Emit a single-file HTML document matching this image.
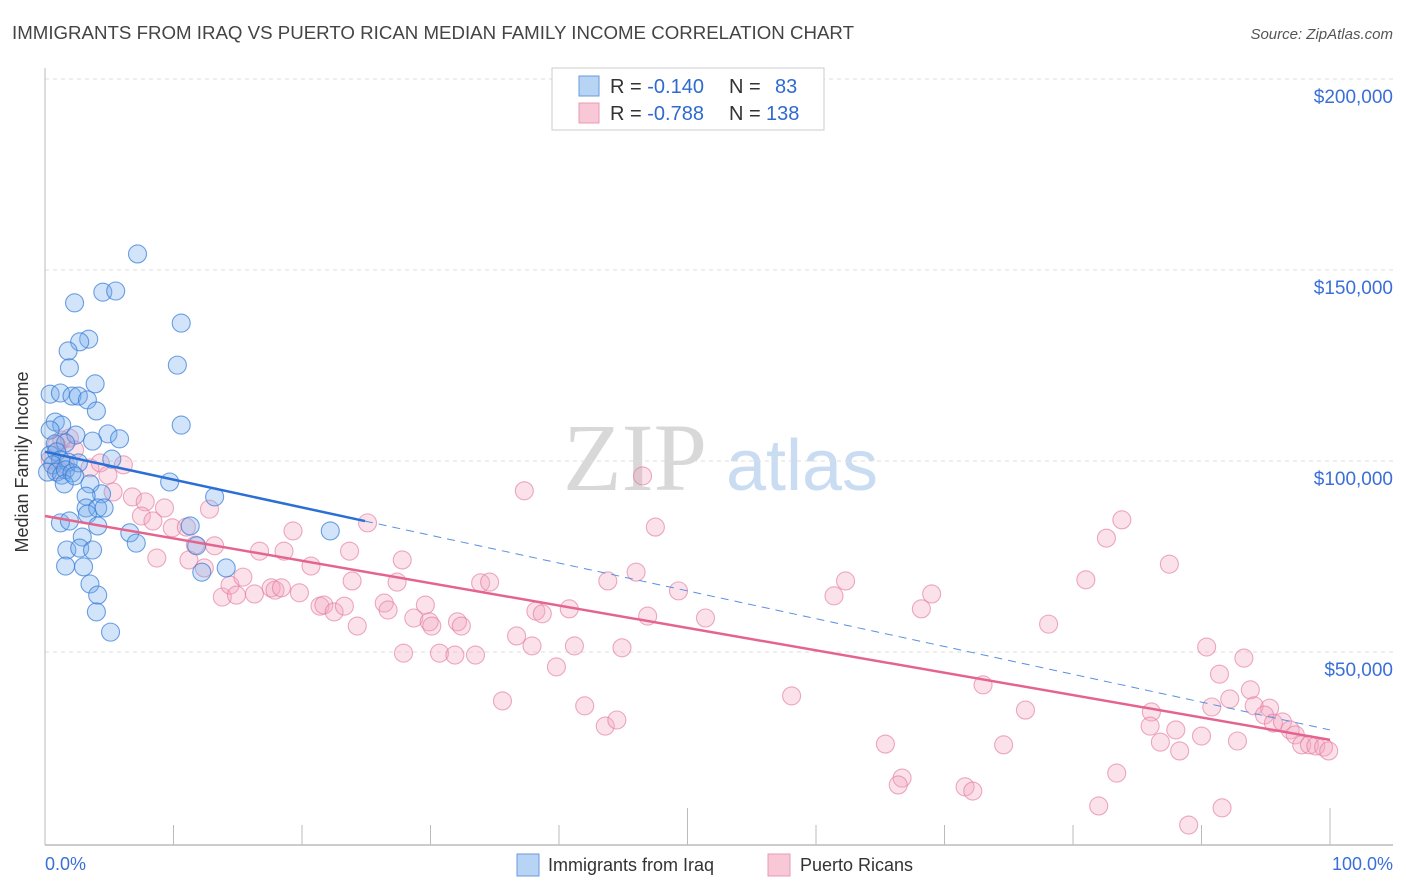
<!DOCTYPE html>
<html><head><meta charset="utf-8">
<style>
body{margin:0;background:#fff;font-family:"Liberation Sans",sans-serif;}
svg{display:block}
</style></head>
<body>
<svg id="chart" width="1406" height="892" xmlns="http://www.w3.org/2000/svg">
<text x="12" y="39" font-size="18" fill="#444" textLength="842" lengthAdjust="spacingAndGlyphs">IMMIGRANTS FROM IRAQ VS PUERTO RICAN MEDIAN FAMILY INCOME CORRELATION CHART</text>
<text x="1393" y="39" font-size="15" fill="#555" font-style="italic" text-anchor="end">Source: ZipAtlas.com</text>
<g>
<text x="635" y="490" font-family="Liberation Serif,serif" font-size="96" fill="#d8d8d8" text-anchor="middle">ZIP</text>
<text x="802" y="490" font-size="72" fill="#c9dcf2" text-anchor="middle">atlas</text>
</g>
<g id="grid"></g>
<g id="axes"></g>
<g id="pts"></g>
<g id="trends"></g>
<text x="22" y="456" font-size="18" fill="#333" transform="rotate(-90 28 456)" text-anchor="middle">Median Family Income</text>
<g>
<rect x="552" y="68" width="272" height="62" fill="#fff" stroke="#ccc"/>
<rect x="579" y="76" width="20" height="20" fill="#b8d4f5" stroke="#6a9ae0"/>
<rect x="579" y="103" width="20" height="20" fill="#f8c8d6" stroke="#e99ab4"/>
<text x="610" y="93" font-size="20" fill="#333">R = <tspan fill="#2f6ad0">-0.140</tspan><tspan x="729">N = </tspan><tspan x="775" fill="#2f6ad0">83</tspan></text>
<text x="610" y="120" font-size="20" fill="#333">R = <tspan fill="#2f6ad0">-0.788</tspan><tspan x="729">N = </tspan><tspan x="766" fill="#2f6ad0">138</tspan></text>
</g>
<text x="45" y="870" font-size="18" fill="#3a6fd8">0.0%</text>
<text x="1393" y="870" font-size="18" fill="#3a6fd8" text-anchor="end">100.0%</text>
<g>
<rect x="517" y="854" width="22" height="22" fill="#b8d4f5" stroke="#6a9ae0"/>
<text x="548" y="871" font-size="18" fill="#333">Immigrants from Iraq</text>
<rect x="768" y="854" width="22" height="22" fill="#f8c8d6" stroke="#e99ab4"/>
<text x="800" y="871" font-size="18" fill="#333">Puerto Ricans</text>
</g>
</svg>
<script>
const yTicks=[50000,100000,150000,200000];
const yTickLabels=["$50,000","$100,000","$150,000","$200,000"];
const xTicks=[0,10,20,30,40,50,60,70,80,90,100];
const iraqX=[7.2,4.5,5.5,2.3,10.6,3.4,2.7,1.8,10.3,1.9,3.9,0.4,1.2,2.1,2.6,3.3,4.0,10.6,0.8,1.3,0.4,2.4,4.9,3.7,5.8,0.8,1.6,0.4,0.9,1.2,0.6,1.8,0.2,0.9,1.3,1.6,2.1,2.6,5.2,9.7,1.5,2.3,3.5,13.2,4.4,3.2,3.2,4.1,4.6,3.3,11.3,1.2,1.9,4.1,22.2,6.6,2.9,7.1,11.8,1.7,2.7,3.7,14.1,12.2,1.6,3.0,3.5,4.1,4.0,5.1];
const iraqY=[154.2,144.2,144.5,141.4,136.1,131.9,131.2,128.8,125.1,124.4,120.2,117.5,117.8,117.0,117.0,116.0,113.1,109.4,110.2,109.4,108.1,106.8,107.1,105.2,105.8,104.5,104.7,101.6,102.4,100.3,99.0,99.7,97.1,97.1,96.3,97.7,96.9,99.5,100.5,94.5,94.0,96.1,94.0,90.6,91.4,90.8,87.7,87.7,87.7,86.1,83.0,83.8,84.3,83.0,81.7,81.2,80.1,78.5,77.8,76.7,77.2,76.7,72.0,70.9,72.5,72.3,67.8,64.9,60.5,55.2];
const prX=[0.4,0.9,1.3,1.9,2.3,1.0,1.6,3.5,4.3,4.9,6.1,5.3,6.8,7.8,7.5,8.4,9.3,8.7,9.9,11.0,11.2,11.7,12.4,12.8,13.2,13.8,14.4,14.9,15.4,16.3,16.7,17.6,17.9,18.4,18.6,19.3,19.8,20.7,21.4,21.7,22.5,23.3,23.7,23.9,24.3,25.1,26.4,26.7,27.4,27.8,27.9,28.7,29.6,29.9,30.1,30.7,31.9,32.1,32.4,33.5,33.9,34.6,35.6,36.7,37.3,37.9,38.2,38.7,39.8,40.8,41.2,42.0,43.6,43.8,44.5,44.9,46.0,46.5,46.9,47.5,49.3,51.4,
62.3,61.4,69.0,68.2,83.8,82.6,87.5,81.0,78.1,58.1,65.4,66.7,66.4,71.6,72.2,73.0,76.3,74.6,83.4,82.0,89.0,91.6,90.4,93.3,91.4,93.8,92.2,90.8,94.1,95.3,94.9,95.6,96.3,96.9,97.3,86.1,86.0,88.0,86.8,88.3,90.0,92.8,97.8,98.4,98.9,99.5,99.9];
const prY=[100.3,104.2,105.5,106.0,102.9,97.7,99.0,98.2,99.5,96.3,99.0,91.9,90.6,89.3,85.6,84.3,87.7,74.6,82.5,82.7,74.1,78.0,72.0,87.4,77.8,64.4,67.5,64.9,69.6,65.2,76.4,66.8,66.2,66.8,76.4,81.7,65.5,72.5,62.0,62.3,60.5,62.0,76.4,68.6,56.8,83.8,62.8,61.0,68.3,74.1,49.7,58.9,62.3,57.9,56.8,49.7,49.2,57.9,56.8,49.2,68.1,68.3,37.2,54.2,92.2,51.6,60.7,60.0,46.1,61.3,51.6,35.9,30.6,68.6,32.2,51.1,70.9,96.1,59.4,82.7,66.0,58.9,
68.6,64.7,65.2,61.3,84.6,79.8,73.0,68.9,57.3,38.5,25.9,17.0,15.2,14.7,13.6,41.4,34.8,25.7,18.3,9.7,4.7,9.2,51.3,48.4,44.2,40.1,37.7,35.6,35.9,35.3,33.5,31.4,31.7,29.6,28.3,34.3,30.6,29.6,26.4,24.1,28.0,26.7,25.7,25.7,25.4,25.1,24.1];
const iraqTrend=[102.4,29.6];
const prTrend=[85.6,27.0];
const iraqSolidEnd=24.9;

const NS="http://www.w3.org/2000/svg";
const X0=45,X1=1330,YZ=843,PX50K=191;
function xs(p){return X0+(X1-X0)*p/100;}
function ys(v){return YZ-v*PX50K/50000;}
function mk(tag,attrs,parent){const e=document.createElementNS(NS,tag);for(const k in attrs)e.setAttribute(k,attrs[k]);parent.appendChild(e);return e;}
const grid=document.getElementById('grid'),axes=document.getElementById('axes'),pts=document.getElementById('pts'),tr=document.getElementById('trends');
yTicks.forEach((t,i)=>{
  const l=mk('line',{x1:45,x2:1393,y1:ys(t),y2:ys(t),stroke:'#ddd','stroke-dasharray':'4,4'},grid);
  
  
  const tx=mk('text',{x:1393,y:ys(t)+24,'font-size':19,fill:'#3a6fd8','text-anchor':'end'},grid);
  tx.textContent=yTickLabels[i];
  
  
});
const ya=mk('line',{x1:45,x2:45,y1:68,y2:845,stroke:'#bbb'},axes);


const xa=mk('line',{x1:45,x2:1393,y1:845,y2:845,stroke:'#bbb','stroke-width':1.5},axes);


xTicks.forEach(t=>{
  const top=(t%50===0)?808:825;
  const l=mk('line',{x1:xs(t),x2:xs(t),y1:top,y2:845,stroke:'#bbb'},axes);
  
  
});
function dots(xa,ya,fill,stroke,name){
  for(let i=0;i<xa.length;i++){
    const c=mk('circle',{cx:xs(xa[i]),cy:ys(ya[i]*1000),r:9,fill:fill,stroke:stroke,'stroke-width':1.1},pts);
    
    
  }
}
dots(prX,prY,'rgba(244,165,190,0.32)','rgba(228,125,160,0.65)','puerto-rican-point');
dots(iraqX,iraqY,'rgba(115,170,235,0.32)','rgba(55,125,215,0.72)','iraq-point');
function tv(t,p){return (t[0]+(t[1]-t[0])*p/100)*1000;}
const pl=mk('line',{x1:xs(0),y1:ys(tv(prTrend,0)),x2:xs(100),y2:ys(tv(prTrend,100)),stroke:'#e5648f','stroke-width':2.5},tr);


const bl=mk('line',{x1:xs(0),y1:ys(tv(iraqTrend,0)),x2:xs(iraqSolidEnd),y2:ys(tv(iraqTrend,iraqSolidEnd)),stroke:'#2a6fd6','stroke-width':2.5},tr);


const bd=mk('line',{x1:xs(iraqSolidEnd),y1:ys(tv(iraqTrend,iraqSolidEnd)),x2:xs(100),y2:ys(tv(iraqTrend,100)),stroke:'#5a8fe0','stroke-width':1,'stroke-dasharray':'8,6'},tr);


</script>
</body></html>
